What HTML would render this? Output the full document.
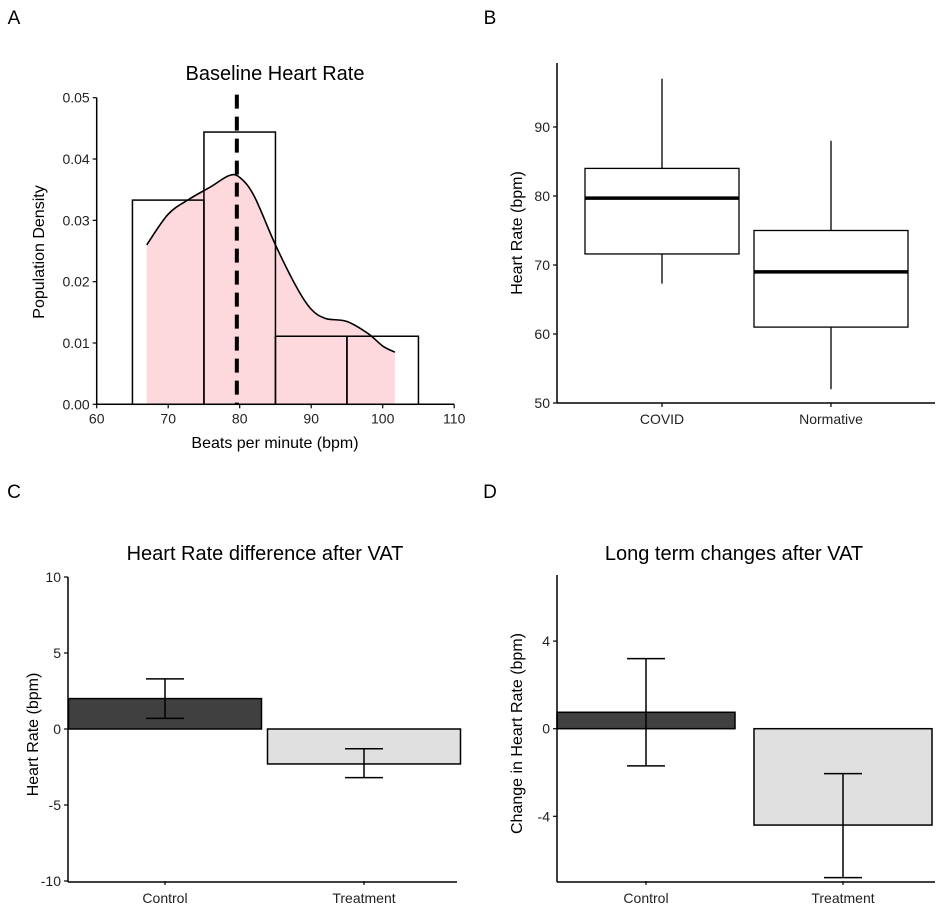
<!DOCTYPE html>
<html><head><meta charset="utf-8"><style>body{margin:0;background:#fff}svg{display:block;font-family:"Liberation Sans",Arial,sans-serif}</style></head>
<body>
<svg id="s" width="936" height="908"></svg>
<script>
// Panel A data
const histBinsStart=[65,75,85,95];
const histHeights=[0.0333,0.0444,0.0111,0.0111];
const densityX=[67,70,73,76,78.5,80,82,85,88,90,92,95,98,100,101.7];
const densityY=[0.026,0.031,0.0335,0.0355,0.0373,0.037,0.034,0.026,0.019,0.0155,0.014,0.0135,0.0115,0.0095,0.0085];
const meanHR=79.6;
const aXTicks=[60,70,80,90,100,110];
const aYTicks=[0,0.01,0.02,0.03,0.04,0.05];
// Panel B data
const boxCats=["COVID","Normative"];
const boxMin=[67.3,52];const boxQ1=[71.6,61];const boxMed=[79.7,69];const boxQ3=[84,75];const boxMax=[97,88];
const bYTicks=[50,60,70,80,90];
// Panel C data
const cCats=["Control","Treatment"];
const cVals=[2.0,-2.3];const cLo=[0.7,-3.2];const cHi=[3.3,-1.3];
const cYTicks=[-10,-5,0,5,10];
// Panel D data
const dCats=["Control","Treatment"];
const dVals=[0.75,-4.4];const dLo=[-1.7,-6.8];const dHi=[3.2,-2.05];
const dYTicks=[-4,0,4];

const S=document.getElementById('s');const NS="http://www.w3.org/2000/svg";
function el(t,a,name,parent){const e=document.createElementNS(NS,t);for(const k in a)e.setAttribute(k,a[k]);


(parent||S).appendChild(e);return e;}
function txt(x,y,s,name,opt){opt=opt||{};const e=el('text',{x:x,y:y,'font-size':opt.fs||14,'text-anchor':opt.a||'middle',fill:opt.c||'#222'},name);if(opt.rot)e.setAttribute('transform','rotate(-90 '+x+' '+y+')');e.textContent=s;return e;}
function line(x1,y1,x2,y2,name,w,extra){const a={x1:x1,y1:y1,x2:x2,y2:y2,stroke:'#000','stroke-width':w||1.5};Object.assign(a,extra||{});return el('line',a,name);}
function smooth(pts){let d='M'+pts[0][0]+','+pts[0][1];for(let i=0;i<pts.length-1;i++){const p0=pts[Math.max(0,i-1)],p1=pts[i],p2=pts[i+1],p3=pts[Math.min(pts.length-1,i+2)];
d+=' C'+(p1[0]+(p2[0]-p0[0])/6)+','+(p1[1]+(p2[1]-p0[1])/6)+' '+(p2[0]-(p3[0]-p1[0])/6)+','+(p2[1]-(p3[1]-p1[1])/6)+' '+p2[0]+','+p2[1];}return d;}

// letters
txt(14,24,'A','panel-label-a',{fs:19,c:'#000'});txt(490,24,'B','panel-label-b',{fs:19,c:'#000'});
txt(14,498,'C','panel-label-c',{fs:19,c:'#000'});txt(490,498,'D','panel-label-d',{fs:19,c:'#000'});

// Panel A
(function(){const X=v=>96.7+(v-60)*7.15, Y=v=>404.3-v*6132;
const pts=densityX.map((x,i)=>[X(x),Y(densityY[i])]);
const sp=smooth(pts);
el('path',{d:sp+' L'+pts[pts.length-1][0]+','+Y(0)+' L'+pts[0][0]+','+Y(0)+'Z',fill:'#fdd9dd',stroke:'none'},'density-fill');
histBinsStart.forEach((b,i)=>el('rect',{x:X(b),y:Y(histHeights[i]),width:X(b+10)-X(b),height:Y(0)-Y(histHeights[i]),fill:'none',stroke:'#000','stroke-width':1.5},'hist-bar'));
el('path',{d:sp,fill:'none',stroke:'#000','stroke-width':1.6},'density-curve');
line(X(meanHR),Y(0.0505),X(meanHR),Y(0),'mean-line',4,{'stroke-dasharray':'14,8'});
line(X(60),Y(0.05),X(60),Y(0),'y-axis-a',1.5);line(X(60),Y(0),X(110),Y(0),'x-axis-a',1.5);
aXTicks.forEach(v=>{line(X(v),Y(0),X(v),Y(0)+4,'x-tick',1.2);txt(X(v),Y(0)+19,v,'x-tick-label');});
aYTicks.forEach(v=>{line(X(60)-4,Y(v),X(60),Y(v),'y-tick',1.2);txt(X(60)-7,Y(v)+5,v.toFixed(2),'y-tick-label',{a:'end'});});
txt(275,80,'Baseline Heart Rate','title-a',{fs:20,c:'#000'});
txt(275,448,'Beats per minute (bpm)','x-axis-title-a',{fs:16,c:'#000'});
txt(44,252,'Population Density','y-axis-title-a',{fs:16,c:'#000',rot:1});
})();

// Panel B
(function(){const Y=v=>403-(v-50)*6.9;const cx=[662,831],hw=77;
line(557,63,557,403,'y-axis-b',1.5);line(557,403,935,403,'x-axis-b',1.5);
bYTicks.forEach(v=>{line(553,Y(v),557,Y(v),'y-tick',1.2);txt(550,Y(v)+5,v,'y-tick-label',{a:'end'});});
boxCats.forEach((c,i)=>{const x=cx[i];
line(x,Y(boxMax[i]),x,Y(boxQ3[i]),'whisker-upper',1.3);line(x,Y(boxQ1[i]),x,Y(boxMin[i]),'whisker-lower',1.3);
el('rect',{x:x-hw,y:Y(boxQ3[i]),width:2*hw,height:Y(boxQ1[i])-Y(boxQ3[i]),fill:'#fff',stroke:'#000','stroke-width':1.3},'box-'+c.toLowerCase());
line(x-hw,Y(boxMed[i]),x+hw,Y(boxMed[i]),'median-line',3.5);
line(x,403,x,407,'x-tick',1.2);txt(x,424,c,'x-tick-label');});
txt(522,233,'Heart Rate (bpm)','y-axis-title-b',{fs:16,c:'#000',rot:1});
})();

// Bar panels
function bars(ax,y0,per,cats,vals,lo,hi,ticks,top,title,tx,yl,ylx,right,c0,step,bw){
const Y=v=>y0-v*per;
cats.forEach((c,i)=>{const cx=c0+i*step;const y1=Math.min(Y(0),Y(vals[i])),h=Math.abs(Y(vals[i])-Y(0));
el('rect',{x:cx-bw/2,y:y1,width:bw,height:h,fill:i?'#e0e0e0':'#404040',stroke:'#000','stroke-width':1.5},'bar-'+c.toLowerCase());
line(cx,Y(hi[i]),cx,Y(lo[i]),'error-bar',1.5);line(cx-19,Y(hi[i]),cx+19,Y(hi[i]),'error-cap',1.5);line(cx-19,Y(lo[i]),cx+19,Y(lo[i]),'error-cap',1.5);
line(cx,881,cx,885,'x-tick',1.2);txt(cx,903,c,'x-tick-label');});
line(ax,top,ax,882,'y-axis',1.5);line(ax,882,right,882,'x-axis',1.5);
ticks.forEach(v=>{line(ax-4,Y(v),ax,Y(v),'y-tick',1.2);txt(ax-7,Y(v)+5,v,'y-tick-label',{a:'end'});});
txt(tx,560,title,'chart-title',{fs:20,c:'#000'});
txt(ylx,(top+882)/2+5,yl,'y-axis-title',{fs:16,c:'#000',rot:1});}
bars(68,729,15.2,cCats,cVals,cLo,cHi,cYTicks,577,'Heart Rate difference after VAT',265,'Heart Rate (bpm)',38,457,165,199,193);
bars(557,728.7,21.9,dCats,dVals,dLo,dHi,dYTicks,575,'Long term changes after VAT',734,'Change in Heart Rate (bpm)',522,935,646,197,178);
</script>
</body></html>
